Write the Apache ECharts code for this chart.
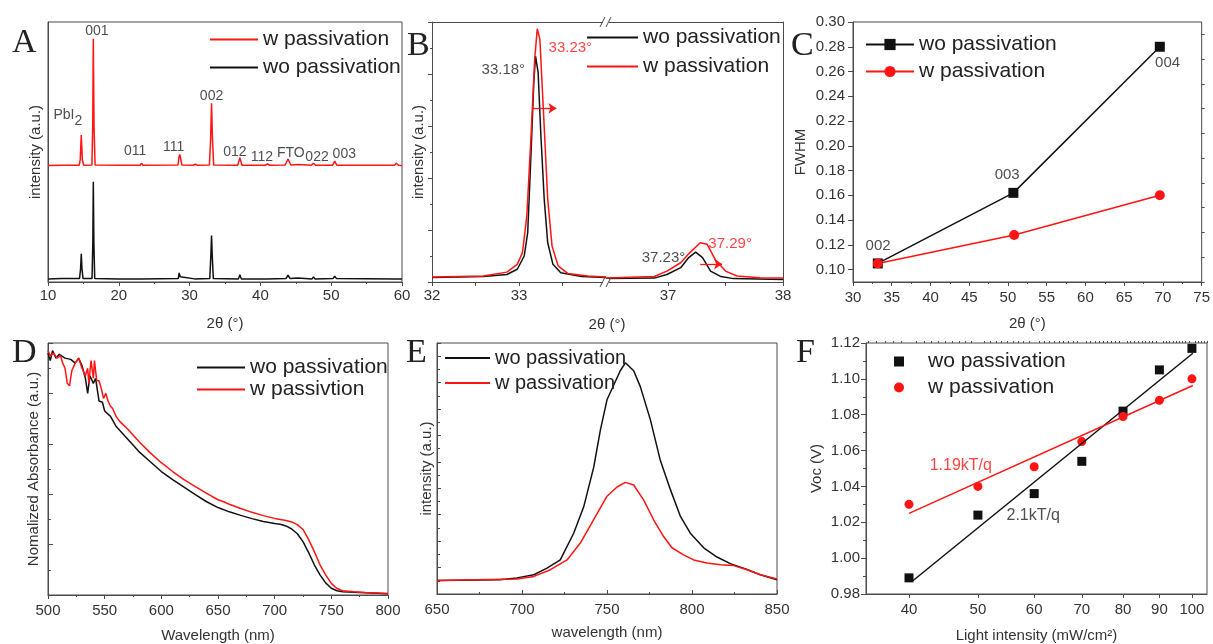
<!DOCTYPE html>
<html><head><meta charset="utf-8">
<script src="https://cdn.jsdelivr.net/npm/echarts@6/dist/echarts.min.js"></script>
<style>html,body{margin:0;padding:0;background:#fff}#c{width:1213px;height:644px}</style>
</head><body><div id="c"></div>
<script>
// ---------- Panel A: XRD patterns ([2theta, intensity a.u.]) ----------
const xrdW = [[10,0.448],[12,0.449],[14.4,0.449],[14.55,0.47],[14.7,0.565],[14.85,0.47],[15.05,0.449],[16.2,0.45],[16.32,0.6],[16.4,0.936],[16.5,0.6],[16.65,0.45],[20,0.449],[23.0,0.449],[23.2,0.457],[23.4,0.449],[28.35,0.45],[28.5,0.48],[28.6,0.491],[28.7,0.48],[28.9,0.45],[30.5,0.449],[30.8,0.453],[31.1,0.449],[32.8,0.45],[32.97,0.55],[33.1,0.687],[33.23,0.55],[33.4,0.45],[36.8,0.449],[37.1,0.478],[37.4,0.449],[40.7,0.449],[41.0,0.454],[41.3,0.449],[43.5,0.45],[43.9,0.473],[44.3,0.45],[45.3,0.452],[47.2,0.449],[47.5,0.457],[47.8,0.449],[50.2,0.449],[50.5,0.465],[50.8,0.449],[58.9,0.449],[59.2,0.457],[59.5,0.449],[60,0.448]];
const xrdWo = [[10,0.012],[12,0.013],[14.45,0.013],[14.6,0.05],[14.7,0.109],[14.8,0.05],[14.95,0.013],[16.22,0.013],[16.33,0.15],[16.4,0.386],[16.48,0.15],[16.6,0.013],[20,0.012],[23.1,0.012],[23.2,0.017],[23.3,0.012],[28.4,0.013],[28.52,0.035],[28.58,0.041],[28.68,0.02],[28.8,0.013],[30.7,0.012],[30.8,0.015],[30.9,0.012],[32.85,0.013],[33.0,0.1],[33.1,0.179],[33.2,0.1],[33.35,0.013],[36.9,0.012],[37.1,0.028],[37.3,0.012],[40.9,0.012],[41.0,0.015],[41.1,0.012],[43.6,0.013],[43.9,0.026],[44.2,0.013],[45.3,0.015],[47.3,0.012],[47.5,0.02],[47.7,0.012],[50.25,0.013],[50.5,0.022],[50.75,0.013],[59.0,0.012],[59.2,0.018],[59.4,0.012],[60,0.012]];
const xrdPeakNames = ['001','PbI2','002','011','111','012','112','FTO','022','003'];
const xrdPeakLabelPos = [[16.9,0.963],[12.8,0.63],[33.1,0.713],[22.3,0.505],[27.75,0.52],[36.4,0.499],[40.2,0.48],[44.3,0.497],[48.0,0.482],[51.85,0.492]];

// ---------- Panel B: (002) and (012) peaks ----------
const peakWoLeft = [[32.0,0.017],[32.3,0.019],[32.59,0.021],[32.86,0.029],[32.98,0.049],[33.06,0.10],[33.10,0.19],[33.14,0.51],[33.17,0.767],[33.19,0.869],[33.22,0.805],[33.25,0.574],[33.29,0.318],[33.33,0.151],[33.39,0.068],[33.48,0.036],[33.72,0.021],[34.0,0.017]];
const peakWLeft = [[32.0,0.019],[32.3,0.021],[32.59,0.023],[32.86,0.038],[32.98,0.068],[33.04,0.113],[33.09,0.254],[33.14,0.574],[33.18,0.856],[33.21,0.974],[33.24,0.933],[33.28,0.664],[33.33,0.318],[33.38,0.138],[33.45,0.062],[33.56,0.033],[33.79,0.023],[34.0,0.019]];
const peakWoRight = [[36.46,0.013],[36.88,0.015],[36.99,0.029],[37.11,0.055],[37.18,0.094],[37.24,0.115],[37.30,0.094],[37.37,0.042],[37.46,0.021],[37.57,0.013],[38.0,0.01]];
const peakWRight = [[36.46,0.015],[36.88,0.021],[36.99,0.042],[37.11,0.074],[37.19,0.113],[37.28,0.151],[37.34,0.145],[37.41,0.087],[37.50,0.042],[37.60,0.023],[37.80,0.016],[38.0,0.015]];
const peakLabelsWo = [['33.18°',32.82,0.815]];
const peakLabelsW = [['33.23°',33.59,0.899]];
const peakLabelsWoR = [['37.23°',36.96,0.091]];
const peakLabelsWR = [['37.29°',37.54,0.145]];
const shiftArrowLeft = [[33.15,0.668],[33.43,0.668]];
const shiftArrowRight = [[37.28,0.069],[37.47,0.069]];

// ---------- Panel C: FWHM ----------
const fwhmAngleWo = [33.2, 50.7, 69.6];
const fwhmWo = [0.105, 0.162, 0.280];
const fwhmAngleW = [33.2, 50.8, 69.6];
const fwhmW = [0.105, 0.128, 0.160];
const fwhmHkl = ['002','003','004'];
const fwhmHklPos = [[33.24,0.1193],[49.9,0.1764],[70.6,0.2666]];
const fwhmYTicks = [0.10,0.12,0.14,0.16,0.18,0.20,0.22,0.24,0.26,0.28,0.30];
const fwhmYMinorTicks = [0.09,0.11,0.13,0.15,0.17,0.19,0.21,0.23,0.25,0.27,0.29];

// ---------- Panel D: absorbance ----------
const absWo = [[500,0.96],[502,0.93],[504,0.97],[507,0.94],[510,0.955],[515,0.94],[520,0.935],[524,0.92],[527,0.94],[530,0.91],[533,0.86],[535,0.8],[537,0.87],[540,0.84],[542,0.86],[545,0.77],[548,0.765],[550,0.73],[555,0.71],[560,0.67],[565,0.645],[570,0.62],[580,0.57],[590,0.53],[600,0.49],[610,0.458],[620,0.428],[630,0.398],[640,0.37],[650,0.347],[660,0.33],[670,0.316],[680,0.303],[690,0.292],[700,0.284],[705,0.281],[710,0.274],[715,0.262],[720,0.243],[725,0.212],[730,0.168],[735,0.12],[740,0.08],[745,0.048],[750,0.027],[755,0.017],[760,0.013],[770,0.011],[780,0.009],[790,0.007],[800,0.005]];
const absW = [[500,0.97],[502,0.95],[505,0.96],[508,0.94],[511,0.95],[513,0.92],[515,0.9],[517,0.84],[519,0.83],[521,0.89],[524,0.92],[527,0.94],[530,0.9],[533,0.87],[535,0.9],[536,0.84],[538,0.93],[540,0.86],[541,0.93],[543,0.85],[545,0.85],[547,0.82],[549,0.78],[551,0.8],[553,0.77],[555,0.75],[557,0.74],[560,0.71],[563,0.69],[570,0.66],[580,0.61],[590,0.565],[600,0.525],[610,0.49],[620,0.458],[630,0.43],[640,0.403],[650,0.378],[655,0.37],[660,0.36],[670,0.343],[680,0.328],[690,0.315],[700,0.304],[710,0.296],[715,0.29],[720,0.279],[725,0.26],[730,0.22],[735,0.172],[740,0.12],[745,0.08],[750,0.046],[755,0.026],[760,0.017],[770,0.013],[780,0.01],[790,0.008],[800,0.006]];

// ---------- Panel E: photoluminescence ----------
const plWo = [[650,1.03],[687,1.08],[697,1.22],[707,1.46],[714.7,1.96],[722.5,2.58],[730.4,4.6],[736.3,6.6],[742.2,9.6],[746.1,12.4],[750,14.7],[753.9,15.8],[757.8,16.9],[760.8,17.5],[765.7,16.9],[769.6,15.7],[775.5,13.2],[781.4,10.1],[787.3,7.9],[793.1,5.9],[799,4.6],[806.9,3.5],[814.7,2.8],[822.5,2.3],[832.4,1.85],[840.2,1.46],[850,1.08]];
const plW = [[650,1.03],[697,1.14],[707,1.33],[716.7,1.84],[726.5,2.58],[734.3,3.86],[742,5.6],[750,7.4],[755.9,8.1],[760.8,8.45],[765.7,8.25],[771.6,7.1],[777.5,5.6],[783.3,4.35],[788.2,3.5],[795,2.96],[801,2.58],[808.8,2.34],[816.7,2.22],[824.5,2.15],[832.4,1.84],[840.2,1.46],[850,1.14]];

// ---------- Panel F: Voc vs light intensity ----------
const lightIntensity = [40,50,60,70,80,90,100];
const vocWo = [0.989,1.024,1.036,1.054,1.082,1.105,1.117];
const vocW = [1.030,1.040,1.051,1.065,1.079,1.088,1.100];
const fitWo = [[40.5,0.9874],[100.3,1.1143]];
const fitW = [[40,1.025],[100.3,1.0963]];
const slopeLabels = [['1.19kT/q',47.3,1.0517,'w'],['2.1kT/q',59.8,1.0235,'wo']];
const lightTicks = [40,50,60,70,80,90,100];
const lightRange = [34.8,105];

// ---------- styles ----------
const FONT = 'Liberation Sans';
const TXT = '#333';
const AX = '#4a4a4a';
const RED = '#ff1414';
const BLK = '#111111';

function merge(a, b) {
  const o = Array.isArray(a) ? a.slice() : Object.assign({}, a);
  for (const k in b) {
    if (b[k] && typeof b[k] === 'object' && !Array.isArray(b[k]) && a[k] && typeof a[k] === 'object' && !Array.isArray(a[k])) o[k] = merge(a[k], b[k]);
    else o[k] = b[k];
  }
  return o;
}
const nameStyle = {fontSize:15, color:TXT, fontFamily:FONT};
const baseAxis = {
  type:'value', nameLocation:'middle', nameTextStyle:nameStyle,
  axisLine:{show:true, onZero:false, lineStyle:{color:AX, width:1}},
  axisTick:{show:true, inside:false, length:4, lineStyle:{color:AX, width:1}},
  minorTick:{show:false, length:2, lineStyle:{color:AX, width:1}},
  axisLabel:{show:true, fontSize:15, color:TXT, fontFamily:FONT, margin:6},
  splitLine:{show:false}
};
const ax = (o) => merge(baseAxis, o);
const lineOnly = (o) => merge(baseAxis, merge({axisTick:{show:false}, axisLabel:{show:false}}, o));

const log10 = Math.log10;
const legendFmt = (n) => n.split('|')[1];
const legendBase = {orient:'vertical', selectedMode:false, itemWidth:48, itemHeight:14, formatter:legendFmt,
  textStyle:{fontSize:21, lineHeight:21, color:'#222', fontFamily:FONT}};
const lineLegend = (o) => merge(legendBase, merge({icon:'rect', itemHeight:2}, o));

const labelSeries = (xi, yi, data, color, size) => ({
  type:'scatter', xAxisIndex:xi, yAxisIndex:yi, symbolSize:1, silent:true, z:5,
  itemStyle:{color:'rgba(0,0,0,0)'},
  label:{show:true, position:'inside', color:color, fontSize:size || 14, fontFamily:FONT,
    formatter:(p) => p.data.text,
    rich:{m:{fontSize:14, fontFamily:FONT, color:color, padding:[0,0,6,0], verticalAlign:'bottom'},
          s:{fontSize:14, fontFamily:FONT, color:color, verticalAlign:'bottom'}}},
  data:data
});
const lineSeries = (name, xi, yi, data, color, extra) => merge({
  name:name, type:'line', xAxisIndex:xi, yAxisIndex:yi, data:data, symbol:'none',
  lineStyle:{color:color, width:1.5}, itemStyle:{color:color}
}, extra || {});

const xrdLabelData = xrdPeakNames.map((n,i) => ({value:xrdPeakLabelPos[i], text: n === 'PbI2' ? '{m|PbI}{s|2}' : n}));
const toLabel = (arr) => arr.map(a => ({value:[a[1],a[2]], text:a[0]}));

const option = {
  animation:false,
  backgroundColor:'#fff',
  grid:[
    {left:48, top:22, width:354, height:260, show:true, borderColor:AX, borderWidth:1},
    {left:432, top:22, width:174, height:260},
    {left:606, top:22, width:177, height:260},
    {left:853, top:22, width:351, height:260, show:true, borderColor:AX, borderWidth:1},
    {left:48, top:343, width:340, height:252, show:true, borderColor:AX, borderWidth:1},
    {left:437, top:343, width:340, height:251, show:true, borderColor:AX, borderWidth:1},
    {left:866, top:343, width:341, height:252, show:true, borderColor:AX, borderWidth:1}
  ],
  xAxis:[
    ax({gridIndex:0, min:10, max:60, interval:10, minorTick:{show:true, splitNumber:2}, name:'2θ (°)', nameGap:34}),
    ax({gridIndex:1, min:32, max:34, axisLabel:{customValues:[32,33]}, axisTick:{customValues:[32,32.5,33,33.5]}}),
    ax({gridIndex:2, min:36.46, max:38, axisLabel:{customValues:[37,38]}, axisTick:{customValues:[37,37.5,38]}}),
    lineOnly({gridIndex:1, position:'top', min:32, max:34}),
    lineOnly({gridIndex:2, position:'top', min:36.46, max:38}),
    ax({gridIndex:3, min:30, max:75, interval:5, minorTick:{show:true, splitNumber:2}, axisLabel:{margin:8}, name:'2θ (°)', nameGap:34}),
    ax({gridIndex:4, min:500, max:800, interval:50, minorTick:{show:true, splitNumber:2}, axisLabel:{margin:8}, name:'Wavelength (nm)', nameGap:33}),
    ax({gridIndex:5, min:650, max:850, interval:50, axisTick:{inside:true}, minorTick:{show:true, splitNumber:2}, axisLabel:{margin:8}, name:'wavelength (nm)', nameGap:31}),
    ax({gridIndex:6, min:log10(lightRange[0]), max:log10(lightRange[1]),
        axisLabel:{customValues:lightTicks.map(log10), formatter:(v) => String(Math.round(Math.pow(10, v))), margin:8},
        axisTick:{customValues:lightTicks.map(log10), length:4},
        name:'Light intensity (mW/cm²)', nameGap:34}),
    ax({gridIndex:6, min:log10(lightRange[0]), max:log10(lightRange[1]), axisLine:{show:false}, axisLabel:{show:false},
        axisTick:{length:2, customValues:Array.from({length:71}, (_, i) => 35 + i).filter(v => lightTicks.indexOf(v) < 0).map(log10)}})
  ],
  yAxis:[
    ax({gridIndex:0, min:0, max:1, axisTick:{show:false}, axisLabel:{show:false}, name:'intensity (a.u.)', nameGap:5}),
    ax({gridIndex:1, min:0, max:1, interval:0.2, minorTick:{show:true, splitNumber:2}, axisLabel:{show:false}, name:'intensity (a.u.)', nameGap:6}),
    lineOnly({gridIndex:2, position:'right', min:0, max:1}),
    ax({gridIndex:3, min:0.09, max:0.30, axisLabel:{customValues:fwhmYTicks, formatter:(v) => v.toFixed(2), margin:8},
        axisTick:{customValues:fwhmYTicks, length:5}, name:'FWHM', nameGap:45}),
    ax({gridIndex:3, min:0.09, max:0.30, axisLine:{show:false}, axisLabel:{show:false}, axisTick:{customValues:fwhmYMinorTicks, length:3}}),
    ax({gridIndex:4, min:0, max:1, interval:0.2, axisTick:{inside:true, length:5}, minorTick:{show:true, splitNumber:2, length:3}, axisLabel:{show:false}, name:'Nomalized Absorbance (a.u.)', nameGap:7}),
    ax({gridIndex:5, min:0, max:19, interval:2, axisTick:{inside:true, length:4}, minorTick:{show:true, splitNumber:2, length:3}, axisLabel:{show:false}, name:'intensity (a.u.)', nameGap:3}),
    ax({gridIndex:6, min:0.98, max:1.12, interval:0.02, minorTick:{show:true, splitNumber:2, length:3}, axisTick:{length:5},
        axisLabel:{formatter:(v) => v.toFixed(2), margin:6}, name:'Voc (V)', nameGap:42})
  ],
  legend:[
    lineLegend({left:205, top:24, itemGap:7, data:['A|w passivation','A|wo passivation']}),
    lineLegend({left:582, top:22, itemGap:8, itemWidth:51, data:['B|wo passivation','B|w passivation']}),
    merge(legendBase, {left:860, top:29, itemGap:6, data:['C|wo passivation','C|w passivation']}),
    lineLegend({left:192, top:352, itemGap:1, data:['D|wo passivation','D|w passivtion']}),
    lineLegend({left:440, top:343, itemGap:5, itemWidth:45, textStyle:{fontSize:20, lineHeight:20}, data:['E|wo passivation','E|w passivation']}),
    merge(legendBase, {left:889, top:346, itemGap:5, itemWidth:10, itemHeight:10, textStyle:{padding:[0,0,0,19]}, data:['F|wo passivation','F|w passivation']})
  ],
  series:[
    // A
    lineSeries('A|wo passivation', 0, 0, xrdWo, BLK),
    lineSeries('A|w passivation', 0, 0, xrdW, RED),
    labelSeries(0, 0, xrdLabelData, '#222', 14),
    // B
    lineSeries('B|wo passivation', 1, 1, peakWoLeft, BLK),
    lineSeries('B|w passivation', 1, 1, peakWLeft, RED, {markLine:{silent:true, symbol:['none','arrow'], symbolSize:8, label:{show:false},
      lineStyle:{color:RED, width:1.3, type:'solid'}, data:[[{coord:shiftArrowLeft[0]},{coord:shiftArrowLeft[1]}]]}}),
    lineSeries('B|wo passivation', 2, 2, peakWoRight, BLK),
    lineSeries('B|w passivation', 2, 2, peakWRight, RED, {markLine:{silent:true, symbol:['none','arrow'], symbolSize:8, label:{show:false},
      lineStyle:{color:RED, width:1.3, type:'solid'}, data:[[{coord:shiftArrowRight[0]},{coord:shiftArrowRight[1]}]]}}),
    labelSeries(1, 1, toLabel(peakLabelsWo), '#222', 15),
    labelSeries(1, 1, toLabel(peakLabelsW), RED, 15),
    labelSeries(2, 2, toLabel(peakLabelsWoR), '#222', 15),
    labelSeries(2, 2, toLabel(peakLabelsWR), RED, 15),
    // C
    lineSeries('C|wo passivation', 5, 3, fwhmAngleWo.map((x,i) => [x, fwhmWo[i]]), BLK, {symbol:'rect', symbolSize:10, showSymbol:true}),
    lineSeries('C|w passivation', 5, 3, fwhmAngleW.map((x,i) => [x, fwhmW[i]]), RED, {symbol:'circle', symbolSize:10, showSymbol:true}),
    labelSeries(5, 3, fwhmHkl.map((n,i) => ({value:fwhmHklPos[i], text:n})), '#222', 15),
    // D
    lineSeries('D|wo passivation', 6, 5, absWo, BLK),
    lineSeries('D|w passivtion', 6, 5, absW, RED),
    // E
    lineSeries('E|wo passivation', 7, 6, plWo, BLK),
    lineSeries('E|w passivation', 7, 6, plW, RED),
    // F
    lineSeries('F|fit wo', 8, 7, fitWo.map(p => [log10(p[0]), p[1]]), BLK, {lineStyle:{width:1.5}}),
    lineSeries('F|fit w', 8, 7, fitW.map(p => [log10(p[0]), p[1]]), RED, {lineStyle:{width:1.5}}),
    {name:'F|wo passivation', type:'scatter', xAxisIndex:8, yAxisIndex:7, symbol:'rect', symbolSize:9, itemStyle:{color:BLK, opacity:1},
      data:lightIntensity.map((x,i) => [log10(x), vocWo[i]])},
    {name:'F|w passivation', type:'scatter', xAxisIndex:8, yAxisIndex:7, symbol:'circle', symbolSize:9, itemStyle:{color:RED, opacity:1},
      data:lightIntensity.map((x,i) => [log10(x), vocW[i]])},
    labelSeries(8, 7, slopeLabels.filter(s => s[3] === 'w').map(s => ({value:[log10(s[1]), s[2]], text:s[0]})), RED, 16),
    labelSeries(8, 7, slopeLabels.filter(s => s[3] === 'wo').map(s => ({value:[log10(s[1]), s[2]], text:s[0]})), '#222', 16)
  ],
  graphic:[
    {type:'text', left:12, top:26, style:{text:'A', font:'34px "Liberation Serif"', fill:'#222'}},
    {type:'text', left:407, top:29, style:{text:'B', font:'34px "Liberation Serif"', fill:'#222'}},
    {type:'text', left:791, top:29, style:{text:'C', font:'34px "Liberation Serif"', fill:'#222'}},
    {type:'text', left:12, top:336, style:{text:'D', font:'34px "Liberation Serif"', fill:'#222'}},
    {type:'text', left:406, top:336, style:{text:'E', font:'34px "Liberation Serif"', fill:'#222'}},
    {type:'text', left:796, top:336, style:{text:'F', font:'34px "Liberation Serif"', fill:'#222'}},
    {type:'text', x:607, y:325, style:{text:'2θ (°)', font:'15px "Liberation Sans"', fill:TXT, textAlign:'center', textVerticalAlign:'middle'}},
    {type:'rect', shape:{x:603, y:19, width:6, height:6}, style:{fill:'#fff'}, z:10},
    {type:'rect', shape:{x:603, y:279, width:6, height:6}, style:{fill:'#fff'}, z:10},
    {type:'line', shape:{x1:600, y1:27, x2:605, y2:17}, style:{stroke:AX, lineWidth:1}, z:11},
    {type:'line', shape:{x1:606, y1:27, x2:611, y2:17}, style:{stroke:AX, lineWidth:1}, z:11},
    {type:'line', shape:{x1:600, y1:287, x2:605, y2:277}, style:{stroke:AX, lineWidth:1}, z:11},
    {type:'line', shape:{x1:606, y1:287, x2:611, y2:277}, style:{stroke:AX, lineWidth:1}, z:11}
  ]
};
const chart = echarts.init(document.getElementById('c'));
chart.setOption(option);
</script>
</body></html>
